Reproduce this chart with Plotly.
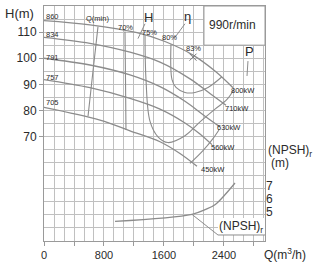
import plotly.graph_objects as go

# ---------------- data ----------------
# Head curves for impeller diameters (Q in m3/h, H in m)
Q_860 = [0, 613, 1240, 1613, 1987, 2280, 2520]
H_860 = [114.4, 112.8, 109.8, 106.4, 101.2, 95.1, 88.7]
Q_834 = [0, 613, 1147, 1547, 1947, 2213, 2427]
H_834 = [108.0, 105.7, 102.3, 98.5, 92.1, 86.5, 82.0]
Q_791 = [0, 613, 1147, 1547, 1880, 2147, 2347]
H_791 = [100.0, 97.4, 93.6, 89.1, 83.5, 77.8, 73.7]
Q_757 = [0, 613, 1147, 1547, 1880, 2080, 2240]
H_757 = [91.8, 88.7, 84.6, 80.5, 75.2, 71.0, 66.9]
Q_705 = [0, 747, 1147, 1547, 1813, 2040]
H_705 = [81.2, 76.3, 72.2, 68.0, 63.5, 58.6]
DIAMETERS = ["860", "834", "791", "757", "705"]
POWERS = ["800kW", "710kW", "630kW", "560kW", "450kW"]

# Iso-efficiency lines and minimum-flow line
Q_min = [720, 653, 587]
H_min = [112.1, 95.0, 77.8]
Q_eff70 = [1080, 1087, 1093]
H_eff70 = [110.2, 91.5, 72.5]
Q_eff70r = [1947, 2120, 2253, 2333]
H_eff70r = [59.7, 64.6, 69.2, 72.5]
Q_eff75 = [1347, 1360, 1413, 1520, 1653, 1880, 2080, 2280, 2440, 2533]
H_eff75 = [109.1, 91.8, 75.9, 69.9, 67.7, 70.3, 75.6, 80.5, 84.2, 88.0]
Q_eff80 = [1693, 1707, 1760, 1880, 2013, 2187, 2373]
H_eff80 = [105.3, 91.8, 88.8, 86.9, 86.9, 88.8, 92.9]
Q_best = [1987]
H_best = [100.4]

# NPSHr curve
Q_npsh = [947, 1973, 2147, 2280, 2413, 2547]
N_npsh = [4.30, 4.84, 5.20, 5.58, 6.34, 7.24]

X_TICKS = [0, 400, 800, 1200, 1600, 2000, 2400, 2800]
X_TICKTEXT = ["0", "", "800", "", "1600", "", "2400", ""]
H_TICKS = [70, 80, 90, 100, 110]
NPSH_TICKS = [5, 6, 7]

# ---------------- styling ----------------
CURVE = "#8c8c8c"
GRID = "#c0c0c0"
AXIS = "#9a9a9a"
TXT = "#2b2b2b"
FONT = "Liberation Sans, Arial, sans-serif"
NARROW = "Liberation Sans Narrow, Liberation Sans, Arial, sans-serif"

fig = go.Figure()

curves = [(Q_860, H_860), (Q_834, H_834), (Q_791, H_791), (Q_757, H_757), (Q_705, H_705)]
for q, h in curves:
    fig.add_trace(go.Scatter(x=q, y=h, mode="lines", line=dict(color=CURVE, width=1.3, shape="spline"),
                             hoverinfo="skip"))

for q, h in [(Q_min, H_min), (Q_eff70, H_eff70), (Q_eff70r, H_eff70r),
             (Q_eff75, H_eff75), (Q_eff80, H_eff80)]:
    fig.add_trace(go.Scatter(x=q, y=h, mode="lines", line=dict(color=CURVE, width=1.1, shape="spline"),
                             hoverinfo="skip"))

fig.add_trace(go.Scatter(x=Q_best, y=H_best, mode="markers",
                         marker=dict(symbol="x-thin", size=7, line=dict(color="#777", width=1)),
                         hoverinfo="skip"))

fig.add_trace(go.Scatter(x=Q_npsh, y=N_npsh, mode="lines", yaxis="y2",
                         line=dict(color=CURVE, width=1.3, shape="spline"), hoverinfo="skip"))

# ---------------- layout ----------------
fig.update_layout(
    width=314, height=266,
    margin=dict(l=44, r=49, t=5, b=22),
    plot_bgcolor="white", paper_bgcolor="white",
    showlegend=False,
    font=dict(family=FONT, color=TXT),
    xaxis=dict(range=[0, 2947], tickmode="array", tickvals=X_TICKS, ticktext=X_TICKTEXT,
               ticks="outside", ticklen=4, tickcolor=AXIS, showgrid=False, zeroline=False,
               showline=True, linecolor=AXIS, linewidth=1, mirror=True,
               tickfont=dict(size=11, color=TXT),
               minor=dict(tickmode="linear", tick0=0, dtick=400 / 3, showgrid=True,
                          gridcolor=GRID, gridwidth=1, ticks="")),
    yaxis=dict(range=[30, 120], tickmode="array", tickvals=H_TICKS,
               ticks="outside", ticklen=4, tickcolor=AXIS, showgrid=False, zeroline=False,
               showline=True, linecolor=AXIS, linewidth=1, mirror=True,
               tickfont=dict(size=12, color=TXT),
               minor=dict(tickmode="linear", tick0=30, dtick=5, showgrid=True,
                          gridcolor=GRID, gridwidth=1, ticks="")),
    yaxis2=dict(range=[2.8, 20.8], overlaying="y", side="right", tickmode="array",
                tickvals=NPSH_TICKS, showgrid=False, zeroline=False, showline=False,
                ticks="", tickfont=dict(size=12, color=TXT)),
)

shapes = []
# 990r/min box
shapes.append(dict(type="rect", xref="x", yref="y", x0=2133, x1=2947, y0=105, y1=120,
                   fillcolor="white", line=dict(color=AXIS, width=1), layer="above"))
# NPSH label box and leader
shapes.append(dict(type="rect", xref="x", yref="y", x0=2320, x1=2947, y0=32.3, y1=38.8,
                   fillcolor="white", line=dict(width=0), layer="above"))
shapes.append(dict(type="path", xref="x", yref="y",
                   path="M 1973,40.2 L 2320,32.3 L 2947,32.3",
                   line=dict(color=CURVE, width=1), layer="above"))
# leaders for H, eta, P
shapes.append(dict(type="line", xref="x", yref="y", x0=1347, y0=113.2, x1=1253, y1=107.5,
                   line=dict(color=CURVE, width=1)))
shapes.append(dict(type="line", xref="x", yref="y", x0=1880, y0=113.2, x1=1747, y1=108.0,
                   line=dict(color=CURVE, width=1)))
shapes.append(dict(type="line", xref="x", yref="y", x0=2720, y0=98.9, x1=2707, y1=93.2,
                   line=dict(color=CURVE, width=1)))
fig.update_layout(shapes=shapes)

ann = []
def A(x, y, t, size, xref="x", yref="y", family=FONT, **kw):
    ann.append(dict(x=x, y=y, xref=xref, yref=yref, text=t, showarrow=False,
                    xanchor="center", yanchor="middle",
                    font=dict(size=size, family=family, color=TXT), **kw))

# diameter labels
for lab, hy in zip(DIAMETERS, [115.9, 109.1, 100.4, 92.5, 83.1]):
    A(107, hy, lab, 7.5, family=NARROW)
# power labels
for lab, (qx, hy) in zip(POWERS, [(2653, 87.6), (2573, 80.9), (2467, 73.4), (2387, 65.8), (2253, 57.5)]):
    A(qx, hy, lab, 7.5, family=NARROW)
A(720, 115.1, "Q(min)", 7.5, family=NARROW)
A(1093, 111.7, "70%", 7.5, family=NARROW)
A(1413, 109.8, "75%", 7.5, family=NARROW)
A(1680, 107.9, "80%", 7.5, family=NARROW)
A(1987, 103.8, "83%", 7.5, family=NARROW)
A(1387, 115.5, "H", 13)
A(1920, 116.0, "η", 13)
A(2520, 112.8, "990r/min", 12)
A(2740, 102.5, "P", 13)
A(2627, 35.5, "(NPSH)<sub>r</sub>", 12)
A(-0.109, 0.967, "H(m)", 13, xref="paper", yref="paper")
A(1.09, -0.054, "Q(m<sup>3</sup>/h)", 12, xref="paper", yref="paper")
A(1.115, 0.385, "(NPSH)<sub>r</sub>", 12, xref="paper", yref="paper")
A(1.068, 0.331, "(m)", 12, xref="paper", yref="paper")
fig.update_layout(annotations=ann)

fig.write_html("out.html")
